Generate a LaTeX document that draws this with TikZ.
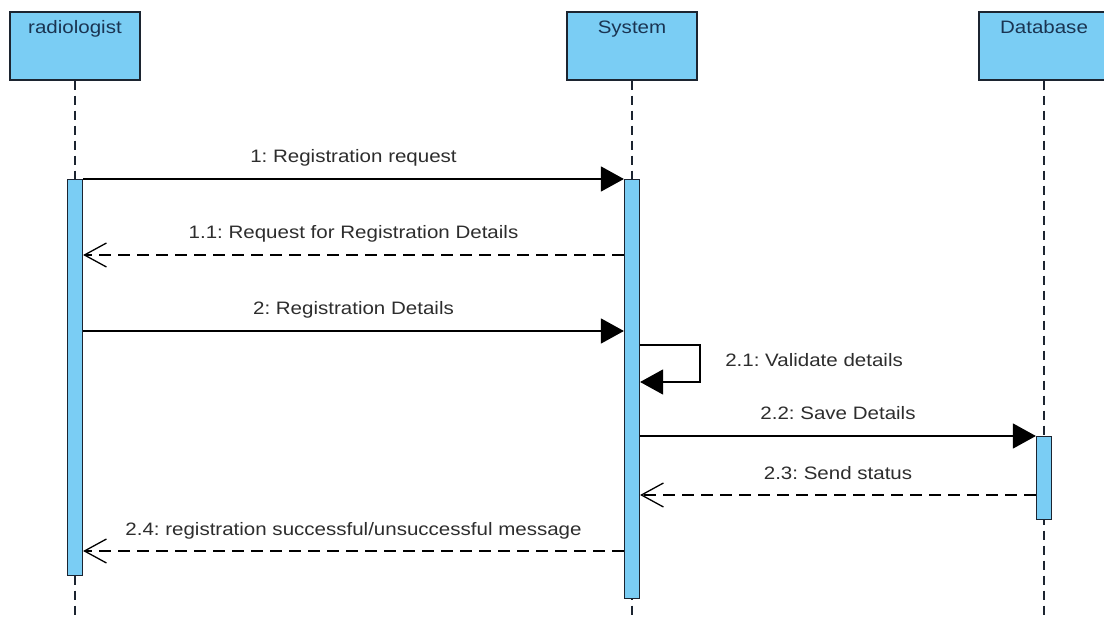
\documentclass[tikz,border=0pt]{standalone}
\usepackage{fontspec}
\setmainfont{Liberation Sans}[FakeStretch=1.14]
\usepackage{tikz}
\usetikzlibrary{arrows.meta,positioning}
\usepackage{xcolor}
\definecolor{umlblue}{RGB}{122,205,244}
\definecolor{umledge}{RGB}{28,36,48}
\definecolor{umlnavy}{RGB}{26,52,82}
\definecolor{umltext}{RGB}{45,45,45}
\frenchspacing

\begin{document}
\begin{tikzpicture}[x=1pt,y=-1pt,
    actor/.style={draw=umledge,fill=umlblue,line width=1.3pt,minimum width=130pt,minimum height=68pt,inner sep=0pt},
    actortext/.style={text=umlnavy,font=\fontsize{18}{20}\selectfont,inner sep=0pt,anchor=base},
    bar/.style={draw=umledge,fill=umlblue,line width=1.2pt,minimum width=15pt,inner sep=0pt,anchor=north},
    lifeline/.style={umledge,line width=1.3pt,dash pattern=on 9pt off 6pt},
    call/.style={line width=1.4pt,-{Triangle[length=23pt,width=25pt]}},
    reply/.style={line width=1.4pt,dash pattern=on 12pt off 7pt,-{Straight Barb[length=22pt,width=24pt,line width=1.3pt]}},
    msgtext/.style={text=umltext,font=\fontsize{18}{20}\selectfont,inner sep=0pt}]
    \useasboundingbox (0,0) rectangle (1104,620);

    % Lifeline heads
    \node[actor] (rad) at (75,46) {};
    \node[actor] (sys) at (632,46) {};
    \node[actor] (db) at (1044,46) {};
    \node[actortext] (radT) at ([yshift=-22pt]rad.north) {radiologist};
    \node[actortext] (sysT) at ([yshift=-22pt]sys.north) {System};
    \node[actortext] (dbT) at ([yshift=-22pt]db.north) {Database};

    % Lifelines
    \draw[lifeline] (rad.south) -- (rad.south |- 0,620);
    \draw[lifeline] (sys.south) -- (sys.south |- 0,620);
    \draw[lifeline] (db.south) -- (db.south |- 0,620);

    % Activation bars
    \node[bar,minimum height=396pt] (radA) at (75,179) {};
    \node[bar,minimum height=419pt] (sysA) at (632,179) {};
    \node[bar,minimum height=83pt] (dbA) at (1044,436) {};

    % Messages
    \draw[call] (radA.north east) -- node[msgtext,anchor=base,yshift=16pt] (m1) {1: Registration request} (sysA.north west);
    \draw[reply] ([yshift=-76pt]sysA.north west) -- node[msgtext,anchor=base,yshift=16pt] (m11) {1.1: Request for Registration Details} ([yshift=-76pt]radA.north east);
    \draw[call] ([yshift=-152pt]radA.north east) -- node[msgtext,anchor=base,yshift=16pt] (m2) {2: Registration Details} ([yshift=-152pt]sysA.north west);
    \draw[call] ([yshift=-166pt]sysA.north east) -- ++(60,0) |- ([yshift=-203pt]sysA.north east);
    \node[msgtext,anchor=west] (m21) at ([xshift=85pt,yshift=-181pt]sysA.north east) {2.1: Validate details};
    \draw[call] ([yshift=-257pt]sysA.north east) -- node[msgtext,anchor=base,yshift=16pt] (m22) {2.2: Save Details} (dbA.north west);
    \draw[reply] ([yshift=-59pt]dbA.north west) -- node[msgtext,anchor=base,yshift=16pt] (m23) {2.3: Send status} ([yshift=-316pt]sysA.north east);
    \draw[reply] ([yshift=-372pt]sysA.north west) -- node[msgtext,anchor=base,yshift=16pt] (m24) {2.4: registration successful/unsuccessful message} ([yshift=-372pt]radA.north east);
\end{tikzpicture}
\end{document}
